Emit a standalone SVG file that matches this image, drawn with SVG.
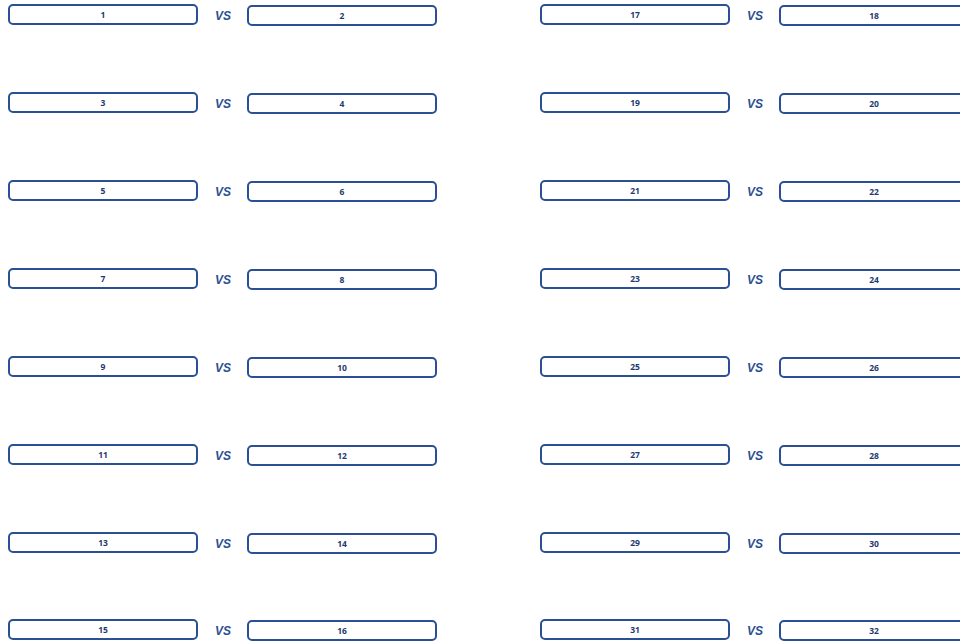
<svg xmlns="http://www.w3.org/2000/svg" width="960" height="641" viewBox="0 0 960 641">
<style>
.b{fill:#fff;stroke:#2b4f93;stroke-width:2}
.t{font-family:"Open Sans","Liberation Sans",sans-serif;font-size:8.5px;font-weight:700;fill:#1e3a6e;text-anchor:middle}
.v{font-family:"Liberation Sans",sans-serif;font-size:12px;font-weight:700;font-style:italic;fill:#2b4f93;text-anchor:middle}
</style>
<defs>
<rect id="r" class="b" x="0" y="0" width="188" height="19" rx="4"/>
</defs>
<rect width="960" height="641" fill="#fff"/>
<g id="connectors"></g>
<g id="row1">
<g id="n1"><use href="#r" x="9" y="5"/><text class="t" x="103" y="18">1</text></g>
<text class="v" x="223" y="19.5">VS</text>
<g id="n2"><use href="#r" x="248" y="6"/><text class="t" x="342" y="19">2</text></g>
<g id="n17"><use href="#r" x="541" y="5"/><text class="t" x="635" y="18">17</text></g>
<text class="v" x="755" y="19.5">VS</text>
<g id="n18"><use href="#r" x="780" y="6"/><text class="t" x="874" y="19">18</text></g>
</g>
<g id="row2" transform="translate(0,88)">
<g id="n3"><use href="#r" x="9" y="5"/><text class="t" x="103" y="18">3</text></g>
<text class="v" x="223" y="19.5">VS</text>
<g id="n4"><use href="#r" x="248" y="6"/><text class="t" x="342" y="19">4</text></g>
<g id="n19"><use href="#r" x="541" y="5"/><text class="t" x="635" y="18">19</text></g>
<text class="v" x="755" y="19.5">VS</text>
<g id="n20"><use href="#r" x="780" y="6"/><text class="t" x="874" y="19">20</text></g>
</g>
<g id="row3" transform="translate(0,176)">
<g id="n5"><use href="#r" x="9" y="5"/><text class="t" x="103" y="18">5</text></g>
<text class="v" x="223" y="19.5">VS</text>
<g id="n6"><use href="#r" x="248" y="6"/><text class="t" x="342" y="19">6</text></g>
<g id="n21"><use href="#r" x="541" y="5"/><text class="t" x="635" y="18">21</text></g>
<text class="v" x="755" y="19.5">VS</text>
<g id="n22"><use href="#r" x="780" y="6"/><text class="t" x="874" y="19">22</text></g>
</g>
<g id="row4" transform="translate(0,264)">
<g id="n7"><use href="#r" x="9" y="5"/><text class="t" x="103" y="18">7</text></g>
<text class="v" x="223" y="19.5">VS</text>
<g id="n8"><use href="#r" x="248" y="6"/><text class="t" x="342" y="19">8</text></g>
<g id="n23"><use href="#r" x="541" y="5"/><text class="t" x="635" y="18">23</text></g>
<text class="v" x="755" y="19.5">VS</text>
<g id="n24"><use href="#r" x="780" y="6"/><text class="t" x="874" y="19">24</text></g>
</g>
<g id="row5" transform="translate(0,352)">
<g id="n9"><use href="#r" x="9" y="5"/><text class="t" x="103" y="18">9</text></g>
<text class="v" x="223" y="19.5">VS</text>
<g id="n10"><use href="#r" x="248" y="6"/><text class="t" x="342" y="19">10</text></g>
<g id="n25"><use href="#r" x="541" y="5"/><text class="t" x="635" y="18">25</text></g>
<text class="v" x="755" y="19.5">VS</text>
<g id="n26"><use href="#r" x="780" y="6"/><text class="t" x="874" y="19">26</text></g>
</g>
<g id="row6" transform="translate(0,440)">
<g id="n11"><use href="#r" x="9" y="5"/><text class="t" x="103" y="18">11</text></g>
<text class="v" x="223" y="19.5">VS</text>
<g id="n12"><use href="#r" x="248" y="6"/><text class="t" x="342" y="19">12</text></g>
<g id="n27"><use href="#r" x="541" y="5"/><text class="t" x="635" y="18">27</text></g>
<text class="v" x="755" y="19.5">VS</text>
<g id="n28"><use href="#r" x="780" y="6"/><text class="t" x="874" y="19">28</text></g>
</g>
<g id="row7" transform="translate(0,528)">
<g id="n13"><use href="#r" x="9" y="5"/><text class="t" x="103" y="18">13</text></g>
<text class="v" x="223" y="19.5">VS</text>
<g id="n14"><use href="#r" x="248" y="6"/><text class="t" x="342" y="19">14</text></g>
<g id="n29"><use href="#r" x="541" y="5"/><text class="t" x="635" y="18">29</text></g>
<text class="v" x="755" y="19.5">VS</text>
<g id="n30"><use href="#r" x="780" y="6"/><text class="t" x="874" y="19">30</text></g>
</g>
<g id="row8" transform="translate(0,615)">
<g id="n15"><use href="#r" x="9" y="5"/><text class="t" x="103" y="18">15</text></g>
<text class="v" x="223" y="19.5">VS</text>
<g id="n16"><use href="#r" x="248" y="6"/><text class="t" x="342" y="19">16</text></g>
<g id="n31"><use href="#r" x="541" y="5"/><text class="t" x="635" y="18">31</text></g>
<text class="v" x="755" y="19.5">VS</text>
<g id="n32"><use href="#r" x="780" y="6"/><text class="t" x="874" y="19">32</text></g>
</g>
</svg>
